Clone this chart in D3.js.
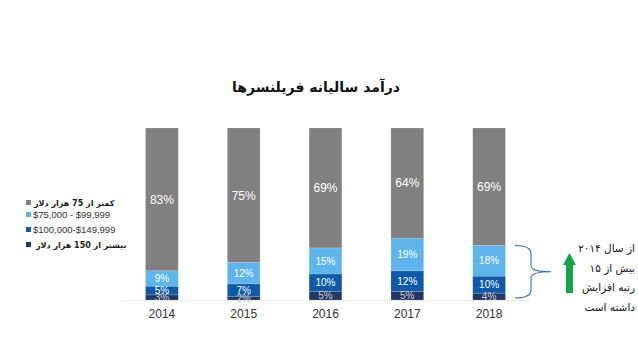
<!DOCTYPE html>
<html>
<head>
<meta charset="utf-8">
<script src="https://cdn.jsdelivr.net/npm/d3@7"></script>
<style>
  body { margin: 0; background: #fff; }
  svg { display: block; }
</style>
</head>
<body>
<div id="chart"></div>
<script>
// chart data
const years = ['2014', '2015', '2016', '2017', '2018'];
const over150k = [3, 2, 5, 5, 4];
const from100k = [5, 7, 10, 12, 10];
const from75k = [9, 12, 15, 19, 18];
const under75k = [83, 75, 69, 64, 69];

const seriesNames = ['over150k', 'from100k', 'from75k', 'under75k'];
const seriesLabels = {
  under75k: 'کمتر از 75 هزار دلار',
  from75k: '$75,000 - $99,999',
  from100k: '$100,000-$149,999',
  over150k: 'بیشتر از 150 هزار دلار',
};
const legendOrder = ['under75k', 'from75k', 'from100k', 'over150k'];
const noteLines = ['از سال ۲۰۱۴', 'بیش از ۱۵', 'رتبه افزایش', 'داشته است'];

const W = 638;
const H = 359;
const colors = {
  under75k: '#808080',
  from75k: '#5DB5EC',
  from100k: '#0E5AA7',
  over150k: '#203864',
};
const labelColors = {
  under75k: '#ffffff',
  from75k: '#ffffff',
  from100k: '#ffffff',
  over150k: '#d0d0d0',
};
const faFont = '"DejaVu Sans", sans-serif';
const enFont = '"Liberation Sans", Arial, sans-serif';

const rows = years.map((y, i) => ({
  year: y,
  over150k: over150k[i],
  from100k: from100k[i],
  from75k: from75k[i],
  under75k: under75k[i],
}));

const stack = d3.stack()
  .keys(seriesNames)
  .offset(d3.stackOffsetExpand);
const layers = stack(rows);

const x = d3.scaleBand()
  .domain(years)
  .range([121, 530])
  .paddingInner(0.6)
  .paddingOuter(0.3);

const y = d3.scaleLinear()
  .domain([0, 1])
  .range([300, 128]);

const svg = d3.select('#chart').append('svg')
  .attr('width', W)
  .attr('height', H);

// title
svg.append('text')
  .attr('x', 316)
  .attr('y', 92)
  .attr('text-anchor', 'middle')
  .attr('font-family', faFont)
  .attr('font-size', 14)
  .attr('font-weight', 'bold')
  .attr('fill', '#111')
  .text('درآمد سالیانه فریلنسرها');

// bars
const layerG = svg.selectAll('.layer')
  .data(layers)
  .enter().append('g')
  .attr('class', 'layer')
  .attr('fill', d => colors[d.key]);

layerG.selectAll('rect')
  .data(d => d)
  .enter().append('rect')
  .attr('x', d => x(d.data.year))
  .attr('width', x.bandwidth())
  .attr('y', d => y(d[1]))
  .attr('height', d => y(d[0]) - y(d[1]))
  .attr('stroke', 'rgba(255,255,255,0.45)')
  .attr('stroke-width', 0.6)
  .attr('stroke-dasharray', '1,1');

// value labels
layers.forEach((layer) => {
  svg.selectAll(`.lbl-${layer.key}`)
    .data(layer)
    .enter().append('text')
    .attr('class', `lbl-${layer.key}`)
    .attr('x', d => x(d.data.year) + x.bandwidth() / 2)
    .attr('y', d => (y(d[0]) + y(d[1])) / 2)
    .attr('dy', '0.36em')
    .attr('text-anchor', 'middle')
    .attr('font-family', enFont)
    .attr('font-size', layer.key === 'under75k' ? 12 : 10)
    .attr('fill', labelColors[layer.key])
    .text(d => `${d.data[layer.key]}%`);
});

// x axis
const xAxis = svg.append('g')
  .attr('transform', `translate(0,${y(0)})`)
  .call(d3.axisBottom(x).tickSize(0).tickPadding(9));
xAxis.select('.domain')
  .attr('stroke', '#d9d9d9')
  .attr('stroke-dasharray', '1,1');
xAxis.selectAll('text')
  .attr('font-family', enFont)
  .attr('font-size', 12)
  .attr('fill', '#333');

// legend
const isEn = d => d === 'from75k' || d === 'from100k';
const legend = svg.selectAll('.legend')
  .data(legendOrder)
  .enter().append('g')
  .attr('class', 'legend')
  .attr('transform', (d, i) => `translate(26,${[203, 215, 230, 245][i]})`);

legend.append('rect')
  .attr('x', 0)
  .attr('y', -3)
  .attr('width', 5)
  .attr('height', 5)
  .attr('fill', d => colors[d]);

legend.append('text')
  .attr('x', d => (isEn(d) ? 7 : d === 'under75k' ? 8 : 10))
  .attr('y', 0)
  .attr('dy', '0.35em')
  .attr('text-anchor', 'start')
  .attr('font-family', d => (isEn(d) ? enFont : faFont))
  .attr('font-size', d => (isEn(d) ? 9.5 : 8))
  .attr('font-weight', d => (isEn(d) ? 'normal' : 'bold'))
  .attr('fill', d => (isEn(d) ? '#333' : '#1a1a1a'))
  .text(d => seriesLabels[d]);

// brace pointing to 2018 lower segments
const bx0 = 515;
const bx1 = 531;
const by0 = y(layers[2][4][1]);
const by1 = y(0) - 2;
const bm = (by0 + by1) / 2;
svg.append('path')
  .attr('d', `M${bx0},${by0} Q${bx1},${by0} ${bx1},${by0 + 8} L${bx1},${bm - 6} Q${bx1},${bm} ${bx1 + 20},${bm}`
    + ` M${bx1 + 20},${bm} Q${bx1},${bm} ${bx1},${bm + 6} L${bx1},${by1 - 8} Q${bx1},${by1} ${bx0},${by1}`)
  .attr('fill', 'none')
  .attr('stroke', '#3571b0')
  .attr('stroke-width', 1.1);

// green arrow
svg.append('path')
  .attr('d', 'M569.5,253 L576,265 L573,265 L573,293 L566,293 L566,265 L563,265 Z')
  .attr('fill', '#16a34a');

// note text
svg.selectAll('.note')
  .data(noteLines)
  .enter().append('text')
  .attr('class', 'note')
  .attr('x', 635)
  .attr('y', (d, i) => 252 + i * 19.6)
  .attr('text-anchor', 'end')
  .attr('font-family', faFont)
  .attr('font-size', 10.5)
  .attr('fill', '#111')
  .text(d => d);
</script>
</body>
</html>
